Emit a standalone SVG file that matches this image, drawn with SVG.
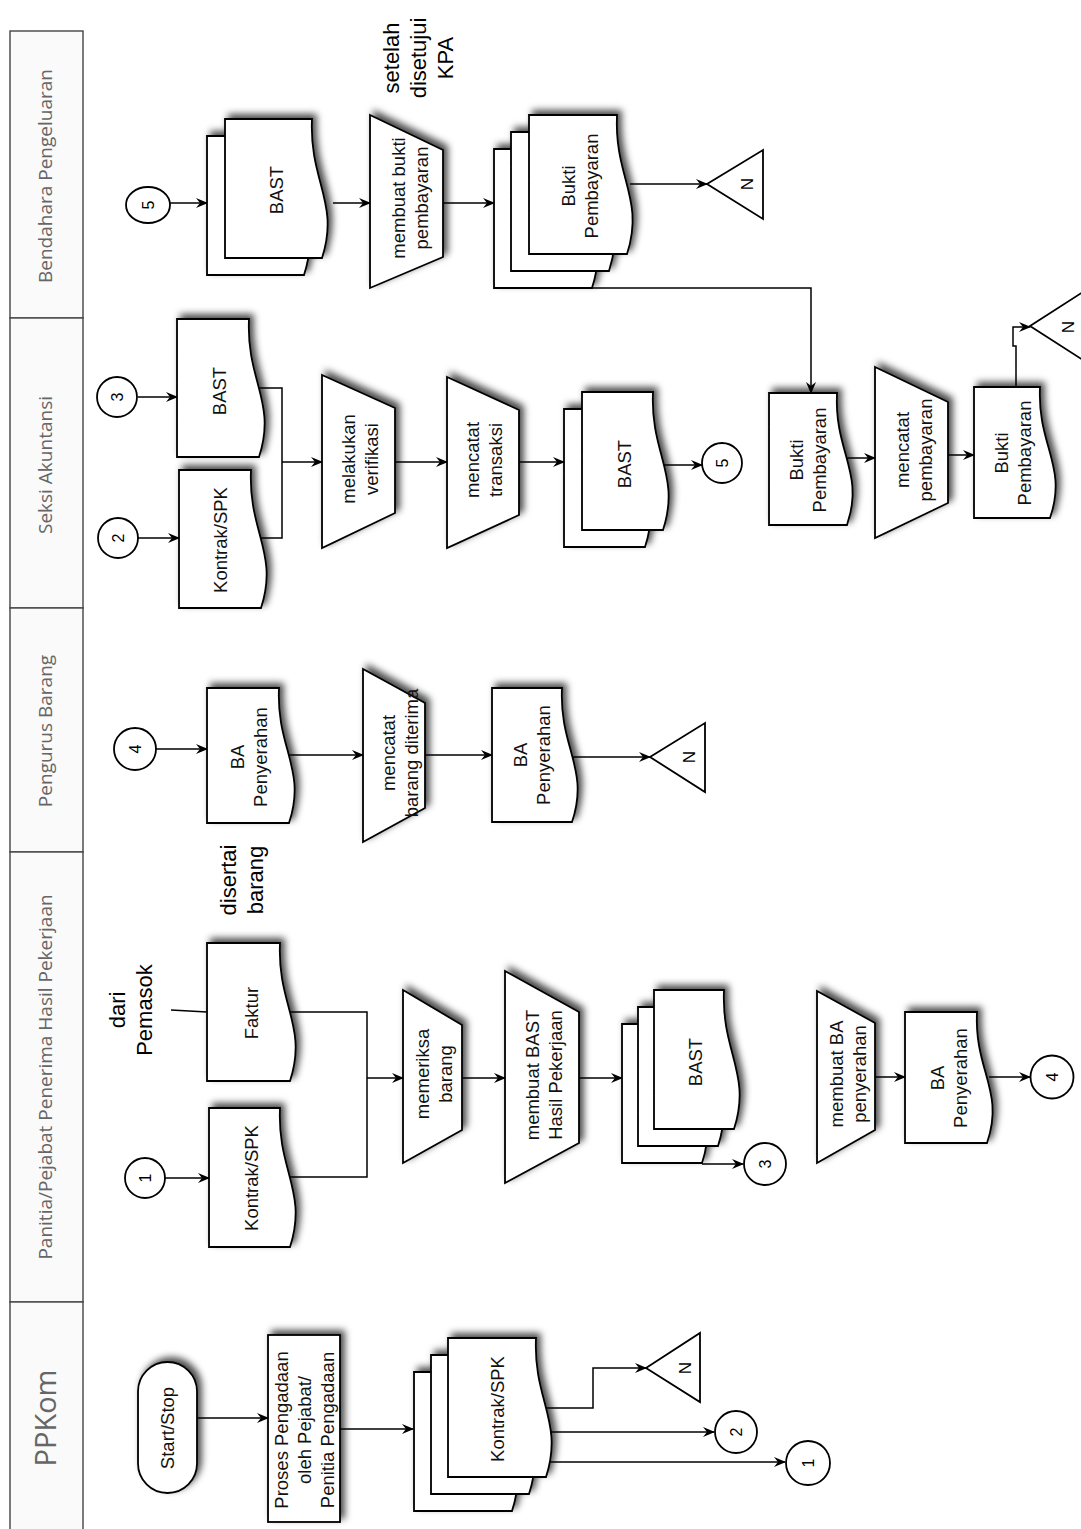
<svg xmlns="http://www.w3.org/2000/svg" width="1081" height="1529" viewBox="0 0 1081 1529">
<defs>
<style>
.s path,.s rect,.s polygon,.s ellipse,.s circle{fill:#fff;stroke:#000;stroke-width:1.8}
.lbl{font-family:"Liberation Sans",Arial,sans-serif;font-size:18.5px;fill:#111}
.hdr{font-family:"Open Sans","DejaVu Sans",sans-serif;font-size:19px;fill:#666}
.ann{font-family:"Liberation Sans",Arial,sans-serif;font-size:22px;fill:#000}
.num{font-family:"Liberation Sans",Arial,sans-serif;font-size:16px;fill:#000}
.nn{font-size:17px}
.hbox{fill:#fafafa;stroke:#444;stroke-width:1.4}
.edge path{fill:none;stroke:#000;stroke-width:1.5}
.ea{marker-end:url(#ah)}
</style>
<filter id="sh" x="-30%" y="-30%" width="160%" height="160%">
<feDropShadow dx="4" dy="-4" stdDeviation="3.5" flood-color="#000" flood-opacity="0.7"/>
</filter>
<marker id="ah" viewBox="0 0 12 10" refX="11" refY="5" markerWidth="12" markerHeight="10" markerUnits="userSpaceOnUse" orient="auto">
<path d="M0,0 L12,5 L0,10 L4,5 Z" fill="#000"/>
</marker>
</defs>
<rect width="1081" height="1529" fill="#fff"/>

<g id="lanes">
<rect class="hbox" x="10" y="31" width="73" height="287"/>
<rect class="hbox" x="10" y="318" width="73" height="290"/>
<rect class="hbox" x="10" y="608" width="73" height="244"/>
<rect class="hbox" x="10" y="852" width="73" height="450"/>
<rect class="hbox" x="10" y="1302" width="73" height="240"/>
<text class="hdr" transform="translate(45,176) rotate(-90)" text-anchor="middle" dy="6.6">Bendahara Pengeluaran</text>
<text class="hdr" transform="translate(45,465) rotate(-90)" text-anchor="middle" dy="6.6">Seksi Akuntansi</text>
<text class="hdr" transform="translate(45,731) rotate(-90)" text-anchor="middle" dy="6.6">Pengurus Barang</text>
<text class="hdr" transform="translate(45,1077) rotate(-90)" text-anchor="middle" dy="6.6">Panitia/Pejabat Penerima Hasil Pekerjaan</text>
<text class="hdr" transform="translate(46,1418) rotate(-90)" text-anchor="middle" dy="10" style="font-size:29px">PPKom</text>
</g>

<g id="connectors" class="edge">
<path class="ea" d="M197,1418 H268"/>
<path class="ea" d="M340,1429 H413"/>
<path class="ea" d="M546,1408 H593 V1368 H646"/>
<path class="ea" d="M551,1432 H714"/>
<path class="ea" d="M550,1462 H785"/>
<path class="ea" d="M165,1178 H209"/>
<path d="M290,1177 H367 V1012 H290"/>
<path class="ea" d="M367,1078 H403"/>
<path d="M171,1010 L207,1012"/>
<path class="ea" d="M462,1078 H505"/>
<path class="ea" d="M579,1078 H622"/>
<path class="ea" d="M702,1164 H743"/>
<path class="ea" d="M875,1077 H905"/>
<path class="ea" d="M989,1077 H1030"/>
<path class="ea" d="M156,749 H207"/>
<path class="ea" d="M289,755 H363"/>
<path class="ea" d="M425,755 H492"/>
<path class="ea" d="M572,757 H650"/>
<path class="ea" d="M138,397 H177"/>
<path class="ea" d="M138,538 H179"/>
<path d="M258,388 H282 V538 H261"/>
<path class="ea" d="M282,462 H322"/>
<path class="ea" d="M395,462 H447"/>
<path class="ea" d="M519,462 H564"/>
<path class="ea" d="M657,465 H702"/>
<path class="ea" d="M586,254 V288 H811 V393"/>
<path class="ea" d="M841,458 H875"/>
<path class="ea" d="M948,455 H974"/>
<path class="ea" d="M1016,387 V346 H1013 V327 H1030"/>
<path class="ea" d="M170,203 H207"/>
<path class="ea" d="M333,203 H370"/>
<path class="ea" d="M443,203 H494"/>
<path class="ea" d="M630,184 H707"/>
</g>

<g id="start">
<g class="s" filter="url(#sh)"><rect x="138" y="1362" width="59" height="131" rx="29.5"/></g>
<text class="lbl" transform="translate(167,1428) rotate(-90)" text-anchor="middle"><tspan x="0" dy="6.5">Start/Stop</tspan></text>
</g>
<g id="proses">
<g class="s" filter="url(#sh)"><rect x="268" y="1335" width="72" height="187"/></g>
<text class="lbl" transform="translate(304,1430) rotate(-90)" text-anchor="middle"><tspan x="0" dy="-16.5">Proses Pengadaan</tspan><tspan x="0" dy="23">oleh Pejabat/</tspan><tspan x="0" dy="23">Penitia Pengadaan</tspan></text>
</g>
<g id="ppkom-kontrak">
<g class="s" filter="url(#sh)">
<path d="M414,1372 H502 C499,1434.6 530,1455.4 512,1511 H414 Z"/>
<path d="M431,1355 H519 C516,1417.6 547,1438.4 529,1494 H431 Z"/>
<path d="M448,1338 H536 C533,1400.6 564,1421.4 546,1477 H448 Z"/>
</g>
<text class="lbl" transform="translate(497,1409) rotate(-90)" text-anchor="middle"><tspan x="0" dy="6.5">Kontrak/SPK</tspan></text>
</g>
<g id="ppkom-n">
<g class="s"><polygon points="646,1368 700,1333 700,1402"/></g>
<text class="num nn" transform="translate(685,1368) rotate(-90)" text-anchor="middle" dy="6">N</text>
</g>
<g id="ppkom-c2">
<g class="s"><circle cx="736" cy="1432" r="21"/></g>
<text class="num" transform="translate(736,1432) rotate(-90)" text-anchor="middle" dy="5.6">2</text>
</g>
<g id="ppkom-c1">
<g class="s"><circle cx="808" cy="1463" r="22"/></g>
<text class="num" transform="translate(808,1463) rotate(-90)" text-anchor="middle" dy="5.6">1</text>
</g>

<g id="pan-c1">
<g class="s"><circle cx="145" cy="1178" r="20"/></g>
<text class="num" transform="translate(145,1178) rotate(-90)" text-anchor="middle" dy="5.6">1</text>
</g>
<g id="pan-kontrak">
<g class="s" filter="url(#sh)"><path d="M209,1108 H280 C277,1170.6 308,1191.4 290,1247 H209 Z"/></g>
<text class="lbl" transform="translate(251,1178) rotate(-90)" text-anchor="middle"><tspan x="0" dy="6.5">Kontrak/SPK</tspan></text>
</g>
<g id="pan-faktur">
<g class="s" filter="url(#sh)"><path d="M207,943 H280 C277,1005.1 308,1025.8 290,1081 H207 Z"/></g>
<text class="lbl" transform="translate(251,1013) rotate(-90)" text-anchor="middle"><tspan x="0" dy="6.5">Faktur</tspan></text>
</g>
<g id="ann-pemasok">
<text class="ann" transform="translate(131,1010) rotate(-90)" text-anchor="middle"><tspan x="0" dy="-5.8">dari</tspan><tspan x="0" dy="27">Pemasok</tspan></text>
</g>
<g id="ann-barang">
<text class="ann" transform="translate(242,880) rotate(-90)" text-anchor="middle"><tspan x="0" dy="-5.8">disertai</tspan><tspan x="0" dy="27">barang</tspan></text>
</g>
<g id="pan-periksa">
<g class="s" filter="url(#sh)"><polygon points="403,990 462,1025 462,1130 403,1163"/></g>
<text class="lbl" transform="translate(434,1074) rotate(-90)" text-anchor="middle"><tspan x="0" dy="-5">memeriksa</tspan><tspan x="0" dy="23">barang</tspan></text>
</g>
<g id="pan-buatbast">
<g class="s" filter="url(#sh)"><polygon points="505,971 579,1012 579,1143 505,1183"/></g>
<text class="lbl" transform="translate(544,1075) rotate(-90)" text-anchor="middle"><tspan x="0" dy="-5">membuat BAST</tspan><tspan x="0" dy="23">Hasil Pekerjaan</tspan></text>
</g>
<g id="pan-bast">
<g class="s" filter="url(#sh)">
<path d="M622,1024 H692 C689,1086.6 720,1107.4 702,1163 H622 Z"/>
<path d="M638,1007 H708 C705,1069.6 736,1090.4 718,1146 H638 Z"/>
<path d="M654,990 H724 C721,1052.6 752,1073.4 734,1129 H654 Z"/>
</g>
<text class="lbl" transform="translate(695,1062) rotate(-90)" text-anchor="middle"><tspan x="0" dy="6.5">BAST</tspan></text>
</g>
<g id="pan-c3">
<g class="s"><circle cx="765" cy="1164" r="21"/></g>
<text class="num" transform="translate(765,1164) rotate(-90)" text-anchor="middle" dy="5.6">3</text>
</g>
<g id="pan-buatba">
<g class="s" filter="url(#sh)"><polygon points="817,991 875,1023 875,1130 817,1163"/></g>
<text class="lbl" transform="translate(848,1074) rotate(-90)" text-anchor="middle"><tspan x="0" dy="-5">membuat BA</tspan><tspan x="0" dy="23">penyerahan</tspan></text>
</g>
<g id="pan-ba">
<g class="s" filter="url(#sh)"><path d="M905,1012 H977 C974,1071 1005,1090.6 987,1143 H905 Z"/></g>
<text class="lbl" transform="translate(949,1078) rotate(-90)" text-anchor="middle"><tspan x="0" dy="-5">BA</tspan><tspan x="0" dy="23">Penyerahan</tspan></text>
</g>
<g id="pan-c4">
<g class="s"><circle cx="1052" cy="1077" r="21.5"/></g>
<text class="num" transform="translate(1052,1077) rotate(-90)" text-anchor="middle" dy="5.6">4</text>
</g>

<g id="pb-c4">
<g class="s"><circle cx="135" cy="749" r="21"/></g>
<text class="num" transform="translate(135,749) rotate(-90)" text-anchor="middle" dy="5.6">4</text>
</g>
<g id="pb-ba1">
<g class="s" filter="url(#sh)"><path d="M207,688 H279 C276,748.8 307,769 289,823 H207 Z"/></g>
<text class="lbl" transform="translate(249,757) rotate(-90)" text-anchor="middle"><tspan x="0" dy="-5">BA</tspan><tspan x="0" dy="23">Penyerahan</tspan></text>
</g>
<g id="pb-catat">
<g class="s" filter="url(#sh)"><polygon points="363,669 425,703 425,808 363,842"/></g>
<text class="lbl" transform="translate(400,753) rotate(-90)" text-anchor="middle"><tspan x="0" dy="-5">mencatat</tspan><tspan x="0" dy="23">barang diterima</tspan></text>
</g>
<g id="pb-ba2">
<g class="s" filter="url(#sh)"><path d="M492,688 H562 C559,748.3 590,768.4 572,822 H492 Z"/></g>
<text class="lbl" transform="translate(532,755) rotate(-90)" text-anchor="middle"><tspan x="0" dy="-5">BA</tspan><tspan x="0" dy="23">Penyerahan</tspan></text>
</g>
<g id="pb-n">
<g class="s"><polygon points="650,757 705,723 705,792"/></g>
<text class="num nn" transform="translate(689,757) rotate(-90)" text-anchor="middle" dy="6">N</text>
</g>

<g id="sa-c3">
<g class="s"><circle cx="117" cy="397" r="20"/></g>
<text class="num" transform="translate(117,397) rotate(-90)" text-anchor="middle" dy="5.6">3</text>
</g>
<g id="sa-c2">
<g class="s"><circle cx="118" cy="538" r="20"/></g>
<text class="num" transform="translate(118,538) rotate(-90)" text-anchor="middle" dy="5.6">2</text>
</g>
<g id="sa-bast">
<g class="s" filter="url(#sh)"><path d="M177,319 H249 C246,381.1 277,401.8 259,457 H177 Z"/></g>
<text class="lbl" transform="translate(219,391) rotate(-90)" text-anchor="middle"><tspan x="0" dy="6.5">BAST</tspan></text>
</g>
<g id="sa-kontrak">
<g class="s" filter="url(#sh)"><path d="M179,470 H251 C248,532.1 279,552.8 261,608 H179 Z"/></g>
<text class="lbl" transform="translate(220,540) rotate(-90)" text-anchor="middle"><tspan x="0" dy="6.5">Kontrak/SPK</tspan></text>
</g>
<g id="sa-verif">
<g class="s" filter="url(#sh)"><polygon points="322,375 395,408 395,513 322,548"/></g>
<text class="lbl" transform="translate(360,459) rotate(-90)" text-anchor="middle"><tspan x="0" dy="-5">melakukan</tspan><tspan x="0" dy="23">verifikasi</tspan></text>
</g>
<g id="sa-transaksi">
<g class="s" filter="url(#sh)"><polygon points="447,377 519,410 519,515 447,548"/></g>
<text class="lbl" transform="translate(484,460) rotate(-90)" text-anchor="middle"><tspan x="0" dy="-5">mencatat</tspan><tspan x="0" dy="23">transaksi</tspan></text>
</g>
<g id="sa-bast2">
<g class="s" filter="url(#sh)">
<path d="M564,409 H635 C632,471.1 663,491.8 645,547 H564 Z"/>
<path d="M582,392 H653 C650,454.1 681,474.8 663,530 H582 Z"/>
</g>
<text class="lbl" transform="translate(624,464) rotate(-90)" text-anchor="middle"><tspan x="0" dy="6.5">BAST</tspan></text>
</g>
<g id="sa-c5">
<g class="s"><circle cx="722" cy="463" r="20"/></g>
<text class="num" transform="translate(722,463) rotate(-90)" text-anchor="middle" dy="5.6">5</text>
</g>
<g id="sa-bukti1">
<g class="s" filter="url(#sh)"><path d="M769,393 H837 C834,452.4 865,472.2 847,525 H769 Z"/></g>
<text class="lbl" transform="translate(808,460) rotate(-90)" text-anchor="middle"><tspan x="0" dy="-5">Bukti</tspan><tspan x="0" dy="23">Pembayaran</tspan></text>
</g>
<g id="sa-catatbayar">
<g class="s" filter="url(#sh)"><polygon points="875,367 948,402 948,503 875,538"/></g>
<text class="lbl" transform="translate(914,450) rotate(-90)" text-anchor="middle"><tspan x="0" dy="-5">mencatat</tspan><tspan x="0" dy="23">pembayaran</tspan></text>
</g>
<g id="sa-bukti2">
<g class="s" filter="url(#sh)"><path d="M974,387 H1040 C1037,446 1068,465.6 1050,518 H974 Z"/></g>
<text class="lbl" transform="translate(1013,453) rotate(-90)" text-anchor="middle"><tspan x="0" dy="-5">Bukti</tspan><tspan x="0" dy="23">Pembayaran</tspan></text>
</g>
<g id="sa-n">
<g class="s"><polygon points="1030,326 1086,290 1086,362"/></g>
<text class="num nn" transform="translate(1068,327) rotate(-90)" text-anchor="middle" dy="6">N</text>
</g>

<g id="bp-c5">
<g class="s"><ellipse cx="148" cy="205" rx="22" ry="18"/></g>
<text class="num" transform="translate(148,205) rotate(-90)" text-anchor="middle" dy="5.6">5</text>
</g>
<g id="bp-bast">
<g class="s" filter="url(#sh)">
<path d="M207,136 H294 C291,198.6 322,219.4 304,275 H207 Z"/>
<path d="M225,119 H312 C309,181.6 340,202.4 322,258 H225 Z"/>
</g>
<text class="lbl" transform="translate(276,190) rotate(-90)" text-anchor="middle"><tspan x="0" dy="6.5">BAST</tspan></text>
</g>
<g id="bp-buat">
<g class="s" filter="url(#sh)"><polygon points="370,115 443,150 443,257 370,288"/></g>
<text class="lbl" transform="translate(410,198) rotate(-90)" text-anchor="middle"><tspan x="0" dy="-5">membuat bukti</tspan><tspan x="0" dy="23">pembayaran</tspan></text>
</g>
<g id="bp-bukti">
<g class="s" filter="url(#sh)">
<path d="M494,149 H582 C579,211.6 610,232.4 592,288 H494 Z"/>
<path d="M511,132 H599 C596,194.6 627,215.4 609,271 H511 Z"/>
<path d="M529,115 H617 C614,177.6 645,198.4 627,254 H529 Z"/>
</g>
<text class="lbl" transform="translate(580,186) rotate(-90)" text-anchor="middle"><tspan x="0" dy="-5">Bukti</tspan><tspan x="0" dy="23">Pembayaran</tspan></text>
</g>
<g id="bp-n">
<g class="s"><polygon points="707,184 763,150 763,219"/></g>
<text class="num nn" transform="translate(747,184) rotate(-90)" text-anchor="middle" dy="6">N</text>
</g>
<g id="ann-kpa">
<text class="ann" transform="translate(418,58) rotate(-90)" text-anchor="middle"><tspan x="0" dy="-19.3">setelah</tspan><tspan x="0" dy="27">disetujui</tspan><tspan x="0" dy="27">KPA</tspan></text>
</g>
</svg>
